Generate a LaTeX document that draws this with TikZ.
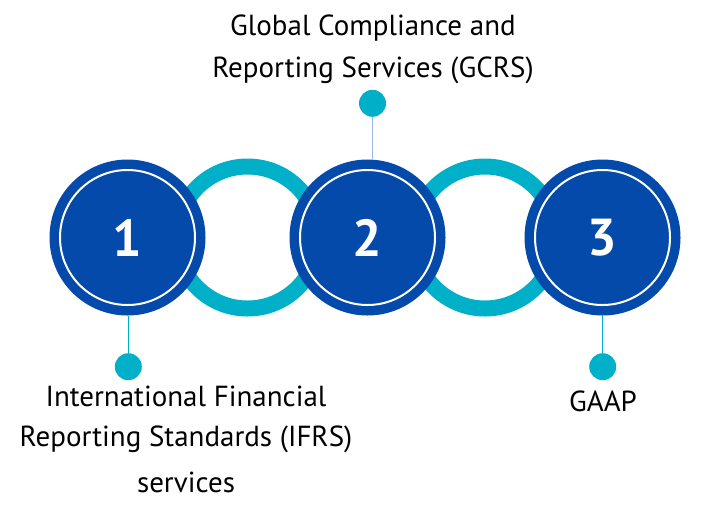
\documentclass[tikz,border=0pt]{standalone}
\usepackage{fontspec}
\setmainfont{PT Sans}
\newfontfamily\labelfont{PT Sans}
\usetikzlibrary{positioning}
\definecolor{ringblue}{RGB}{4,74,170}
\definecolor{ringcyan}{RGB}{0,176,200}
\definecolor{stemblue}{RGB}{157,181,230}

\begin{document}
\begin{tikzpicture}[x=1pt, y=-1pt,
  link/.style={circle, draw=ringcyan, line width=16pt, minimum size=142pt, inner sep=0pt},
  numdisc/.style={circle, fill=ringblue, minimum size=156pt, inner sep=0pt, text=white, font=\bfseries\fontsize{52}{52}\selectfont},
  dot/.style={circle, fill=ringcyan, minimum size=27pt, inner sep=0pt},
  caption/.style={align=center, anchor=base, inner sep=0pt, font=\labelfont\fontsize{29}{40}\selectfont}]
\useasboundingbox (0,0) rectangle (727,507);
% links behind the discs
\node[link] (r1) at (247.5,237.5) {};
\node[link] (r2) at (485,237.5) {};
\node[numdisc] (c1) at (127.5,237.5) {1};
\node[numdisc] (c2) at (367.5,237.5) {2};
\node[numdisc] (c3) at (602.5,237.5) {3};
\foreach \c in {c1,c2,c3}
  \draw[white, line width=2pt] (\c) circle (67.5pt);
% markers
\node[dot] (d1) at (128.3,366.7) {};
\node[dot] (d2) at (372.5,103.3) {};
\node[dot] (d3) at (602.7,366.7) {};
\draw[ringcyan, line width=1.5pt] (d1) -- (c1.south -| d1);
\draw[stemblue, line width=1.5pt] (d2) -- (c2.north -| d2);
\draw[ringcyan, line width=1.5pt] (d3) -- (c3.south -| d3);
% labels (base = last line)
\node[caption] (t1) at (186,492.7) {International Financial\\Reporting Standards (IFRS)\\[6pt]services};
\node[caption, font=\labelfont\fontsize{29}{42}\selectfont] (t2) at (373,77.3) {Global Compliance and\\Reporting Services (GCRS)};
\node[caption] (t3) at (603,411) {GAAP};
\end{tikzpicture}
\end{document}
